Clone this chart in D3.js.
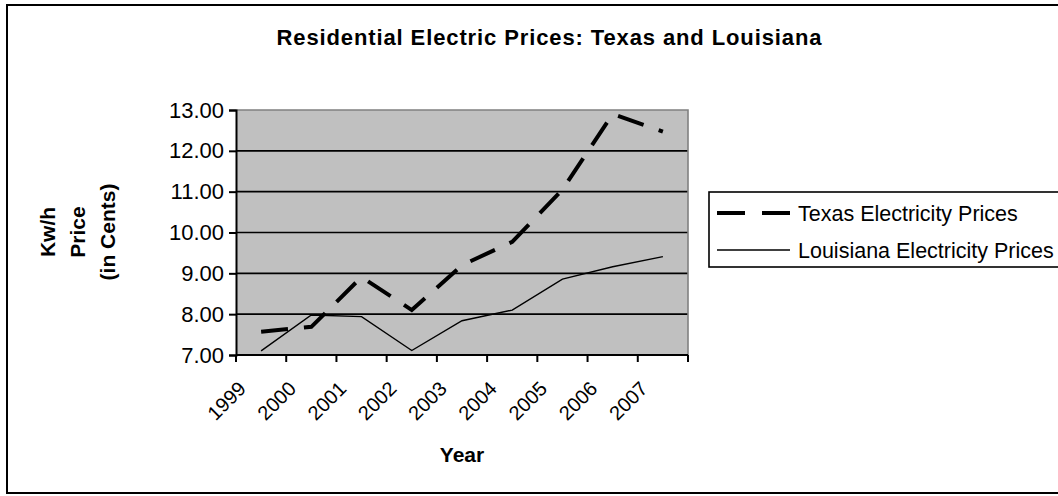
<!DOCTYPE html>
<html>
<head>
<meta charset="utf-8">
<script src="https://cdn.jsdelivr.net/npm/d3@7"></script>
<style>
  html, body { margin: 0; padding: 0; background: #fff; }
  svg { display: block; font-family: "Liberation Sans", Arial, sans-serif; }
</style>
</head>
<body>
<svg id="chart" width="1058" height="496"></svg>
<script>
// Residential electricity prices, cents per kWh
const years = ["1999", "2000", "2001", "2002", "2003", "2004", "2005", "2006", "2007"];
const texasPrices = [7.57, 7.69, 8.91, 8.10, 9.20, 9.77, 11.05, 12.90, 12.47];
const louisianaPrices = [7.10, 7.98, 7.94, 7.11, 7.84, 8.10, 8.86, 9.16, 9.41];
const yTicks = [7, 8, 9, 10, 11, 12, 13];
const seriesNames = ["Texas Electricity Prices", "Louisiana Electricity Prices"];

const svg = d3.select("#chart");
const plot = { left: 236, right: 688, top: 110, bottom: 355 };

// Outer chart frame (runs past the right edge)
svg.append("rect")
  .attr("x", 7).attr("y", 5).attr("width", 1070).attr("height", 488)
  .attr("fill", "#fff").attr("stroke", "#000").attr("stroke-width", 2);

const x = d3.scaleBand().domain(years).range([plot.left, plot.right]).padding(0);
const y = d3.scaleLinear().domain([7, 13]).range([plot.bottom, plot.top]);
const cx = d => x(d) + x.bandwidth() / 2;

// Plot background
svg.append("rect")
  .attr("x", plot.left).attr("y", plot.top)
  .attr("width", plot.right - plot.left).attr("height", plot.bottom - plot.top)
  .attr("fill", "#c0c0c0");

// Gridlines
svg.append("g").selectAll("line")
  .data(yTicks.filter(t => t > 7 && t < 13))
  .join("line")
  .attr("x1", plot.left).attr("x2", plot.right)
  .attr("y1", d => y(d)).attr("y2", d => y(d))
  .attr("stroke", "#000").attr("stroke-width", 1.6);

// Plot border (top and right)
svg.append("path")
  .attr("d", `M${plot.left},${plot.top}H${plot.right}V${plot.bottom}`)
  .attr("fill", "none").attr("stroke", "#808080").attr("stroke-width", 1.6);

// Y axis
const yAxis = svg.append("g")
  .attr("transform", `translate(${plot.left},0)`)
  .call(d3.axisLeft(y).tickValues(yTicks).tickSize(7).tickPadding(5).tickFormat(d3.format(".2f")));
yAxis.select(".domain").attr("stroke", "#000").attr("stroke-width", 2);
yAxis.selectAll(".tick line").attr("stroke", "#000").attr("stroke-width", 2);
yAxis.selectAll(".tick text")
  .attr("font-size", 22).attr("fill", "#000")
  .attr("font-family", "Liberation Sans, Arial, sans-serif");

// X axis: ticks at category boundaries
const boundaries = years.map(d => x(d)).concat([plot.right]);
svg.append("line")
  .attr("x1", plot.left).attr("x2", plot.right)
  .attr("y1", plot.bottom).attr("y2", plot.bottom)
  .attr("stroke", "#000").attr("stroke-width", 2);
svg.append("g").selectAll("line")
  .data(boundaries).join("line")
  .attr("x1", d => d).attr("x2", d => d)
  .attr("y1", plot.bottom).attr("y2", plot.bottom + 7)
  .attr("stroke", "#000").attr("stroke-width", 2);

// Rotated year labels
svg.append("g").selectAll("text")
  .data(years).join("text")
  .attr("transform", d => `translate(${cx(d) - 14},${plot.bottom + 35}) rotate(-45)`)
  .attr("text-anchor", "end")
  .attr("font-size", 20)
  .text(d => d);

// Series lines
const line = vals => d3.line()
  .x((v, i) => cx(years[i]))
  .y(v => y(v))(vals);

svg.append("path")
  .attr("d", line(louisianaPrices))
  .attr("fill", "none").attr("stroke", "#000").attr("stroke-width", 1.4)
  .attr("stroke-linejoin", "miter");

svg.append("path")
  .attr("d", line(texasPrices))
  .attr("fill", "none").attr("stroke", "#000").attr("stroke-width", 4)
  .attr("stroke-dasharray", "27,16")
  .attr("stroke-linejoin", "miter");

// Title
svg.append("text")
  .attr("x", 549).attr("y", 45)
  .attr("text-anchor", "middle")
  .attr("font-size", 22).attr("font-weight", "bold")
  .attr("textLength", 545).attr("lengthAdjust", "spacing")
  .text("Residential Electric Prices: Texas and Louisiana");

// Axis titles
const yTitle = svg.append("text")
  .attr("transform", `translate(55,232) rotate(-90)`)
  .attr("text-anchor", "middle")
  .attr("font-size", 21).attr("font-weight", "bold");
["Kw/h", "Price", "(in Cents)"].forEach((t, i) => {
  yTitle.append("tspan").attr("x", 0).attr("dy", i === 0 ? 0 : 30).text(t);
});

svg.append("text")
  .attr("x", (plot.left + plot.right) / 2).attr("y", 462)
  .attr("text-anchor", "middle")
  .attr("font-size", 21).attr("font-weight", "bold")
  .text("Year");

// Legend
const legend = svg.append("g");
legend.append("rect")
  .attr("x", 709).attr("y", 192).attr("width", 360).attr("height", 75)
  .attr("fill", "#fff").attr("stroke", "#000").attr("stroke-width", 1.6);
const legendRows = [
  { name: seriesNames[0], width: 4, dash: "28,17", y: 213 },
  { name: seriesNames[1], width: 1.4, dash: null, y: 250 }
];
legendRows.forEach(r => {
  legend.append("line")
    .attr("x1", 717).attr("x2", 790).attr("y1", r.y).attr("y2", r.y)
    .attr("stroke", "#000").attr("stroke-width", r.width)
    .attr("stroke-dasharray", r.dash);
  legend.append("text")
    .attr("x", 798).attr("y", r.y + 8)
    .attr("font-size", 21.5)
    .text(r.name);
});
</script>
</body>
</html>
